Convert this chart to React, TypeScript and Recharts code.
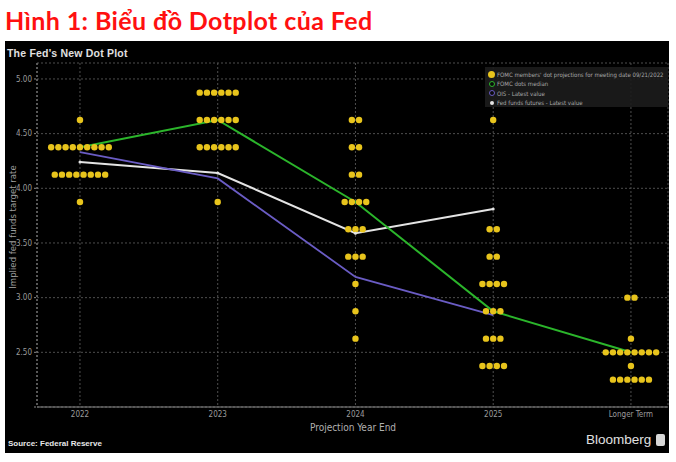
import React from 'react';
import { ComposedChart, Scatter, Line, XAxis, YAxis, CartesianGrid } from 'recharts';

const categories = ['2022', '2023', '2024', '2025', 'Longer Term'];

const dotRates2022 = [4.625, 4.375, 4.125, 3.875];
const dotCounts2022 = [1, 9, 8, 1];
const dotRates2023 = [4.875, 4.625, 4.375, 3.875];
const dotCounts2023 = [6, 6, 6, 1];
const dotRates2024 = [4.625, 4.375, 4.125, 3.875, 3.625, 3.375, 3.125, 2.875, 2.625];
const dotCounts2024 = [2, 2, 2, 4, 3, 3, 1, 1, 1];
const dotRates2025 = [4.625, 3.625, 3.375, 3.125, 2.875, 2.625, 2.375];
const dotCounts2025 = [1, 2, 2, 4, 3, 3, 4];
const dotRatesLonger = [3.0, 2.625, 2.5, 2.375, 2.25];
const dotCountsLonger = [2, 1, 8, 1, 6];

const medianRates = [4.375, 4.625, 3.875, 2.875, 2.5];
const oisRates = [4.33, 4.09, 3.19, 2.84];
const futuresRates = [4.24, 4.14, 3.59, 3.81];

const yTicks = [2.0, 2.5, 3.0, 3.5, 4.0, 4.5, 5.0];

const DOT_STEP = 0.0523; // horizontal spacing between stacked dots, in category units

const dotGroups = [
  [dotRates2022, dotCounts2022],
  [dotRates2023, dotCounts2023],
  [dotRates2024, dotCounts2024],
  [dotRates2025, dotCounts2025],
  [dotRatesLonger, dotCountsLonger],
];

const dotData: { x: number; y: number }[] = [];
dotGroups.forEach(([rates, counts], ci) => {
  rates.forEach((r, k) => {
    const n = counts[k];
    for (let j = 0; j < n; j++) {
      dotData.push({ x: ci + (j - (n - 1) / 2) * DOT_STEP, y: r });
    }
  });
});

const medianData = medianRates.map((y, i) => ({ x: i, y }));
const oisData = oisRates.map((y, i) => ({ x: i, y }));
const futuresData = futuresRates.map((y, i) => ({ x: i, y }));

const YELLOW = '#e8c41c';
const GREEN = '#2bb52b';
const PURPLE = '#6a5cc4';
const WHITE = '#e4e4e4';

const legendItems = [
  { label: "FOMC members' dot projections for meeting date 09/21/2022", color: YELLOW, kind: 'big' },
  { label: 'FOMC dots median', color: GREEN, kind: 'ring' },
  { label: 'OIS - Latest value', color: PURPLE, kind: 'ring' },
  { label: 'Fed funds futures - Latest value', color: WHITE, kind: 'small' },
];

const narrow = '"Liberation Sans Narrow", "DejaVu Sans Condensed", "Liberation Sans", sans-serif';

const LegendBox = () => (
  <div
    style={{
      position: 'absolute',
      left: 480,
      top: 26,
      width: 183,
      height: 40,
      background: 'rgba(28,28,28,0.9)',
      boxSizing: 'border-box',
      paddingTop: 3,
    }}
  >
    {legendItems.map((it) => (
      <div key={it.label} style={{ display: 'flex', alignItems: 'center', height: 9.3, paddingLeft: 2 }}>
        <div style={{ width: 9, display: 'flex', justifyContent: 'center' }}>
          <div
            style={{
              width: it.kind === 'big' ? 7 : it.kind === 'ring' ? 6 : 4,
              height: it.kind === 'big' ? 7 : it.kind === 'ring' ? 6 : 4,
              borderRadius: '50%',
              background: it.kind === 'ring' ? 'rgba(0,0,0,0.6)' : it.color,
              border: it.kind === 'ring' ? `1.5px solid ${it.color}` : 'none',
              boxSizing: 'border-box',
            }}
          />
        </div>
        <span style={{ fontSize: 6, color: '#a8a8a8', fontFamily: narrow, marginLeft: 1, whiteSpace: 'nowrap' }}>
          {it.label}
        </span>
      </div>
    ))}
  </div>
);

const DotShape = (props: any) => {
  const { cx, cy } = props;
  if (cx == null || cy == null) return null;
  return <circle cx={cx} cy={cy} r={3.2} fill={YELLOW} />;
};

export default function App() {
  return (
    <div
      style={{
        position: 'absolute',
        left: 0,
        top: 0,
        width: 676,
        height: 462,
        background: '#ffffff',
        overflow: 'hidden',
        fontFamily: '"Liberation Sans", sans-serif',
      }}
    >
      <div
        style={{
          position: 'absolute',
          left: 5,
          top: 5,
          fontFamily: 'Lato, "Open Sans", sans-serif',
          fontWeight: 700,
          fontSize: 25,
          letterSpacing: 0.4,
          lineHeight: '30px',
          color: '#ff1010',
          whiteSpace: 'nowrap',
        }}
      >
        Hình 1: Biểu đồ Dotplot của Fed
      </div>

      <div style={{ position: 'absolute', left: 5, top: 41, width: 664, height: 412, background: '#000' }}>
        <div
          style={{
            position: 'absolute',
            left: 2,
            top: 6,
            fontSize: 10.5,
            fontWeight: 700,
            color: '#e0e0e0',
            lineHeight: '12px',
            letterSpacing: 0.2,
            whiteSpace: 'nowrap',
          }}
        >
          The Fed's New Dot Plot
        </div>

        <ComposedChart width={664} height={412} margin={{ top: 22, right: 1, left: 0, bottom: 16 }}>
          <CartesianGrid stroke="#4e4e4e" strokeDasharray="2 2" />
          <XAxis
            dataKey="x"
            type="number"
            domain={[-0.312, 4.269]}
            ticks={[0, 1, 2, 3, 4]}
            tickFormatter={(v: number) => categories[v] ?? ''}
            allowDataOverflow
            height={30}
            stroke="#8a8a8a"
            tickLine={false}
            tickSize={3}
            tickMargin={1}
            tick={{ fill: '#9c9c9c', fontSize: 8, fontFamily: narrow }}
            interval={0}
          />
          <YAxis
            dataKey="y"
            type="number"
            domain={[2, 5.146]}
            ticks={yTicks}
            allowDataOverflow
            width={32}
            stroke="#8a8a8a"
            strokeDasharray="2 2"
            tickSize={3}
            tickMargin={2}
            tickFormatter={(v: number) => (v === 2 ? '' : v.toFixed(2))}
            tick={{ fill: '#9c9c9c', fontSize: 8, fontFamily: narrow }}
            interval={0}
          />
          <Scatter data={dotData} shape={<DotShape />} isAnimationActive={false} legendType="none" />
          <Line
            data={futuresData}
            dataKey="y"
            type="linear"
            stroke={WHITE}
            strokeWidth={2}
            dot={{ r: 1.5, fill: WHITE, stroke: 'none' }}
            isAnimationActive={false}
            legendType="none"
          />
          <Line
            data={oisData}
            dataKey="y"
            type="linear"
            stroke={PURPLE}
            strokeWidth={1.8}
            dot={false}
            isAnimationActive={false}
            legendType="none"
          />
          <Line
            data={medianData}
            dataKey="y"
            type="linear"
            stroke={GREEN}
            strokeWidth={2}
            dot={false}
            isAnimationActive={false}
            legendType="none"
          />
        </ComposedChart>

        <LegendBox />

        <div
          style={{
            position: 'absolute',
            left: -62,
            top: 180,
            width: 140,
            textAlign: 'center',
            transform: 'rotate(-90deg)',
            fontSize: 9.5,
            fontFamily: narrow,
            color: '#9c9c9c',
            lineHeight: '12px',
            whiteSpace: 'nowrap',
          }}
        >
          Implied fed funds target rate
        </div>

        <div
          style={{
            position: 'absolute',
            left: 298,
            top: 381,
            width: 100,
            textAlign: 'center',
            fontSize: 10,
            fontFamily: narrow,
            color: '#b0b0b0',
            lineHeight: '12px',
            whiteSpace: 'nowrap',
          }}
        >
          Projection Year End
        </div>

        <div
          style={{
            position: 'absolute',
            left: 3,
            top: 398,
            fontSize: 8,
            fontWeight: 700,
            color: '#e8e8e8',
            lineHeight: '10px',
            whiteSpace: 'nowrap',
          }}
        >
          Source: Federal Reserve
        </div>

        <div
          style={{
            position: 'absolute',
            left: 581,
            top: 391,
            fontSize: 13.5,
            color: '#e0e0e0',
            lineHeight: '16px',
            whiteSpace: 'nowrap',
          }}
        >
          Bloomberg
        </div>
        <div
          style={{
            position: 'absolute',
            left: 651,
            top: 393,
            width: 9,
            height: 12,
            background: '#d8d8d8',
            borderRadius: 2,
          }}
        />
      </div>
    </div>
  );
}
